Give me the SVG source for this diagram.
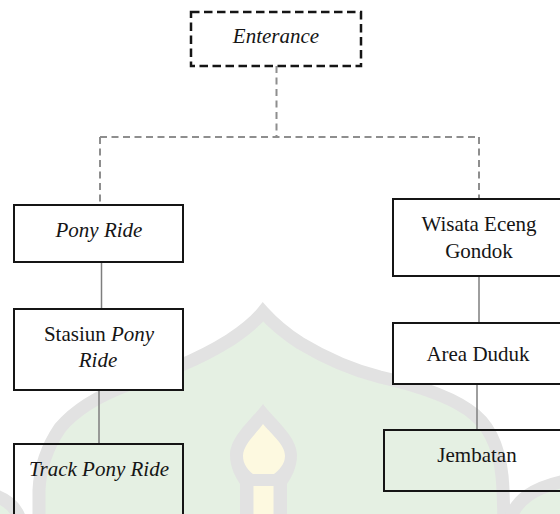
<svg xmlns="http://www.w3.org/2000/svg" width="560" height="514" viewBox="0 0 560 514">
  <rect x="0" y="0" width="560" height="514" fill="#ffffff"/>

  <g id="watermark">
    <g fill="#e5f0e3">
      <path d="M39,520 L39,490 C40,470 45,450 60,428 C75,410 100,395 130,384 C160,374 195,362 230,340 C245,330 255,322 263,312 C272,322 283,332 300,343 C325,358 352,370 380,377 C420,386 455,398 475,415 C495,432 502,460 503,490 L504,520 Z"/>
      <path d="M-10,496 C5,500 14,508 18,520 L-10,520 Z"/>
      <path d="M512,520 C518,500 535,488 570,480 L570,520 Z"/>
    </g>
    <g fill="none" stroke="#e2e2e2" stroke-width="13">
      <path d="M39,520 L39,490 C40,470 45,450 60,428 C75,410 100,395 130,384 C160,374 195,362 230,340 C245,330 255,322 263,312 C272,322 283,332 300,343 C325,358 352,370 380,377 C420,386 455,398 475,415 C495,432 502,460 503,490 L504,520"/>
      <path d="M-10,494 C5,498 16,506 20,520"/>
      <path d="M510,520 C516,500 533,487 570,480"/>
    </g>
    <path fill="#e2e2e2" d="M263,404 C253,418 230,436 230,455 C230,468 236,478 240,484 L240,520 L287,520 L287,484 C291,478 297,468 297,455 C297,436 273,418 263,404 Z"/>
    <path fill="#fdf9e0" d="M263,424 C257,433 243,444 243,456 C243,464 248,470 253,474 L274,474 C279,470 285,464 285,456 C285,444 270,433 263,424 Z"/>
    <rect x="253.5" y="486" width="20" height="34" fill="#fdf9e0"/>
  </g>

  <g id="connectors" fill="none">
    <g stroke="#8e8e8e" stroke-width="2" stroke-dasharray="7 4.5">
      <path d="M276.5,66 V137"/>
      <path d="M100,137 H479"/>
      <path d="M100,137 V205"/>
      <path d="M479,137 V199"/>
    </g>
    <g stroke="#7e7e7e" stroke-width="1.5">
      <path d="M101.5,262 V309"/>
      <path d="M99,390 V444"/>
      <path d="M479,276 V323"/>
      <path d="M477,384 V430"/>
    </g>
  </g>

  <g id="nodes" font-family="Liberation Serif" font-size="21" fill="#151515" text-anchor="middle" stroke="none">
    <g id="enterance">
      <rect x="191" y="12" width="170" height="54" fill="#ffffff" stroke="#151515" stroke-width="2.5" stroke-dasharray="8.5 4.5"/>
      <text x="276" y="43" font-style="italic">Enterance</text>
    </g>

    <g id="pony-ride">
      <rect x="14" y="205" width="169" height="57" fill="#ffffff" stroke="#151515" stroke-width="2"/>
      <text x="99" y="237" font-style="italic">Pony Ride</text>
    </g>

    <g id="stasiun-pony-ride">
      <rect x="14" y="309" width="169" height="81" fill="#ffffff" stroke="#151515" stroke-width="2"/>
      <text x="99" y="341">Stasiun <tspan font-style="italic">Pony</tspan></text>
      <text x="98" y="367" font-style="italic">Ride</text>
    </g>

    <g id="track-pony-ride">
      <rect x="14" y="444" width="169" height="80" fill="none" stroke="#151515" stroke-width="2"/>
      <text x="99" y="476" font-style="italic">Track Pony Ride</text>
    </g>

    <g id="wisata-eceng-gondok">
      <rect x="393" y="199" width="180" height="77" fill="#ffffff" stroke="#151515" stroke-width="2"/>
      <text x="479" y="231">Wisata Eceng</text>
      <text x="479" y="258">Gondok</text>
    </g>

    <g id="area-duduk">
      <rect x="393" y="323" width="180" height="61" fill="#ffffff" stroke="#151515" stroke-width="2"/>
      <text x="478" y="361">Area Duduk</text>
    </g>

    <g id="jembatan">
      <rect x="384" y="430" width="190" height="61" fill="none" stroke="#151515" stroke-width="2"/>
      <text x="477" y="462">Jembatan</text>
    </g>
  </g>
</svg>
